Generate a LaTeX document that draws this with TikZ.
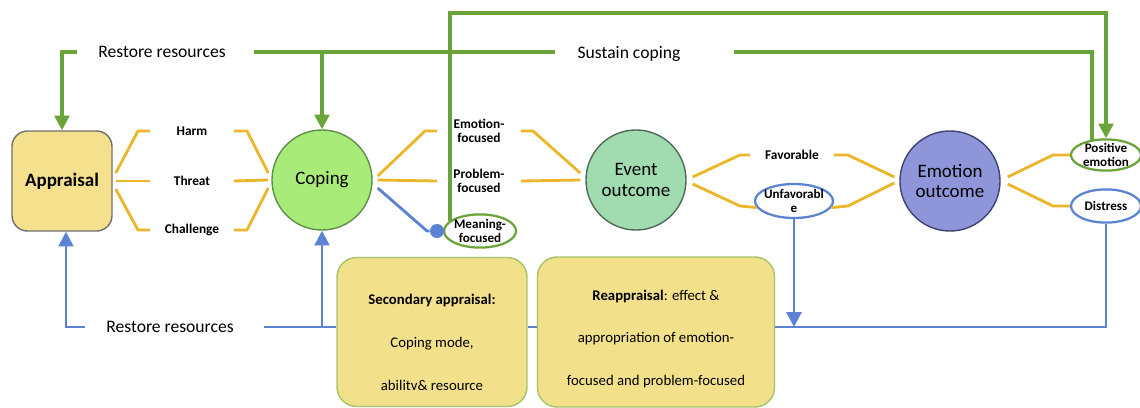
\documentclass[tikz,border=0pt]{standalone}
\usepackage{fontspec}
\setmainfont{Carlito}
\usepackage{xcolor}
\usepackage{tikz}
\usetikzlibrary{arrows.meta,shapes.geometric}

\definecolor{apyellow}{HTML}{F5E08E}
\definecolor{apborder}{HTML}{707070}
\definecolor{boxyellow}{HTML}{F3E08B}
\definecolor{boxborder}{HTML}{A6C36A}
\definecolor{copgreen}{HTML}{A8EB78}
\definecolor{copborder}{HTML}{5F8F4A}
\definecolor{evgreen}{HTML}{A0DCB0}
\definecolor{evborder}{HTML}{506A58}
\definecolor{emblue}{HTML}{8F95D9}
\definecolor{emborder}{HTML}{3E4473}
\definecolor{ycol}{HTML}{EDB52A}
\definecolor{gcol}{HTML}{6AA33A}
\definecolor{bcol}{HTML}{5B82D3}

\tikzstyle{appraisal} = [rectangle, rounded corners=11pt, minimum width=2.5cm, minimum height=2.5cm, text centered, draw=apborder, line width=1pt, fill=apyellow, font=\fontsize{13.5}{15}\selectfont\bfseries]
\tikzstyle{bigcircle} = [circle, minimum size=2.5cm, inner sep=0pt, line width=1pt, align=center, font=\fontsize{13.5}{14.5}\selectfont]
\tikzstyle{tag} = [minimum width=2.075cm, inner sep=0pt, align=center, font=\fontsize{9.5}{10}\selectfont\bfseries]
\tikzstyle{greenoval} = [ellipse, draw=gcol, line width=1.6pt, fill=white, inner xsep=-2pt, inner ysep=-2pt, align=center, font=\fontsize{9.3}{10.5}\selectfont\bfseries]
\tikzstyle{blueoval} = [ellipse, draw=bcol, line width=1.6pt, fill=white, inner xsep=-2pt, inner ysep=-2pt, align=center, font=\fontsize{9.3}{10.5}\selectfont\bfseries]
\tikzstyle{heading} = [inner sep=0pt, font=\fontsize{12.5}{14}\selectfont]
\tikzstyle{notebox} = [rectangle, rounded corners=14pt, draw=boxborder, line width=1pt, fill=boxyellow]
\tikzstyle{notetext} = [align=center, font=\fontsize{10.5}{30.5}\selectfont]
\tikzstyle{yline} = [line width=2pt, draw=ycol]
\tikzstyle{gline} = [line width=2.3pt, draw=gcol]
\tikzstyle{garrow} = [gline, -{Triangle[length=10.5pt,width=10.5pt]}]
\tikzstyle{bline} = [line width=2pt, draw=bcol]
\tikzstyle{barrow} = [bline, -{Triangle[length=10.5pt,width=10.5pt]}]

\begin{document}
\begin{tikzpicture}[x=0.025cm, y=-0.025cm]
\useasboundingbox (0,0) rectangle (1140,408);

	\node (appraisal) [appraisal] at (62,181) {Appraisal};
	\node (coping) [bigcircle, fill=copgreen, draw=copborder] at (322,180) {Coping};
	\node (event) [bigcircle, fill=evgreen, draw=evborder] at (636,180) {Event\\outcome};
	\node (emotion) [bigcircle, fill=emblue, draw=emborder] at (950,181) {Emotion\\outcome};

	\node (harm) [tag] at (192,131) {Harm};
	\node (threat) [tag] at (192,181) {Threat};
	\node (challenge) [tag] at (192,230) {Challenge};

	\node (emofoc) [tag] at (479,131) {Emotion-\\focused};
	\node (probfoc) [tag] at (479,181) {Problem-\\focused};
	\node (meanfoc) [greenoval, minimum width=1.8cm, minimum height=0.83cm] at (480,231) {Meaning-\\focused};
	\node (dot) [circle, fill=bcol, inner sep=0pt, minimum size=0.35cm] at (437,231) {};

	\node (favorable) [tag] at (792,155) {Favorable};
	\node (unfav) [blueoval, minimum width=1.95cm, minimum height=0.85cm] at (794,201) {Unfavorabl\\e};
	\node (positive) [greenoval, minimum width=1.75cm, minimum height=0.78cm] at (1106,155) {Positive\\emotion};
	\node (distress) [blueoval, minimum width=1.75cm, minimum height=0.83cm] at (1106,206) {Distress};

	\node (restoretop) [heading] at (162,52) {Restore resources};
	\node (sustain) [heading] at (629,54) {Sustain coping};
	\node (restorebot) [heading] at (170,327) {Restore resources};

	\node (secbox) [notebox, minimum width=4.75cm, minimum height=3.725cm] at (432,332) {};
	\node (sectext) [notetext] at (432,342) {\textbf{Secondary appraisal:}\\Coping mode,\\abilitv\& resource};
	\node (reapbox) [notebox, minimum width=5.925cm, minimum height=3.75cm] at (656,332) {};
	\node (reaptext) [notetext] at (656,339) {\textbf{Reappraisal}: effect \&\\appropriation of emotion-\\focused and problem-focused};

	\draw [yline] ([shift={(3,-8)}]appraisal.east) -- (138,131) -- (harm.west);
	\draw [yline] ([shift={(3,0)}]appraisal.east) -- (threat.west);
	\draw [yline] ([shift={(3,8)}]appraisal.east) -- (138,230) -- (challenge.west);
	\draw [yline] (harm.east) -- (247,131) -- ([shift={(-3,-7)}]coping.west);
	\draw [yline] (threat.east) -- ([shift={(-3,0)}]coping.west);
	\draw [yline] (challenge.east) -- (247,230) -- ([shift={(-3,8)}]coping.west);

	\draw [yline] ([shift={(5,-4)}]coping.east) -- (425,131) -- (emofoc.west);
	\draw [yline] ([shift={(5,0)}]coping.east) -- (probfoc.west);
	\draw [bline] ([shift={(5,8)}]coping.east) -- (427,231) -- (dot);
	\draw [yline] (emofoc.east) -- (533,131) -- ([shift={(-5,-7)}]event.west);
	\draw [yline] (probfoc.east) -- ([shift={(-5,0)}]event.west);

	\draw [yline] ([shift={(6,-3)}]event.east) -- (740,155) -- (favorable.west);
	\draw [yline] ([shift={(6,4)}]event.east) -- (740,206) -- (unfav.190);
	\draw [yline] (favorable.east) -- (848,155) -- ([shift={(-5,-4)}]emotion.west);
	\draw [yline] (unfav.350) -- (848,206) -- ([shift={(-5,2)}]emotion.west);
	\draw [yline] ([shift={(7,-4)}]emotion.east) -- (1053,155) -- (positive.west);
	\draw [yline] ([shift={(7,3)}]emotion.east) -- (1053,206) -- (distress.west);

	\draw [garrow] ([shift={(-21,0)}]restoretop.west) -| (appraisal.north);
	\draw [gline] ([shift={(28,0)}]restoretop.east) -- ([shift={(-22,0)}]sustain.west |- restoretop.east);
	\draw [garrow] (coping.north |- restoretop.east) -- (coping.north);
	\draw [gline] ([shift={(53,0)}]sustain.east |- restoretop.east) -| (positive.132);
	\draw [garrow] (meanfoc.161) -- (meanfoc.161 |- 0,13) -| (positive.north);

	\draw [bline] (distress.south) |- (reapbox.east |- restorebot.east);
	\draw [barrow] (unfav.south) -- (unfav.south |- restorebot.east);
	\draw [bline] (secbox.east |- restorebot.east) -- (reapbox.west |- restorebot.east);
	\draw [bline] (secbox.west |- restorebot.east) -- ([shift={(30,0)}]restorebot.east);
	\draw [barrow] ([shift={(-21,0)}]restorebot.west) -| ([shift={(4,0)}]appraisal.south);
	\draw [barrow] (coping.south |- restorebot.east) -- (coping.south);

\end{tikzpicture}
\end{document}
